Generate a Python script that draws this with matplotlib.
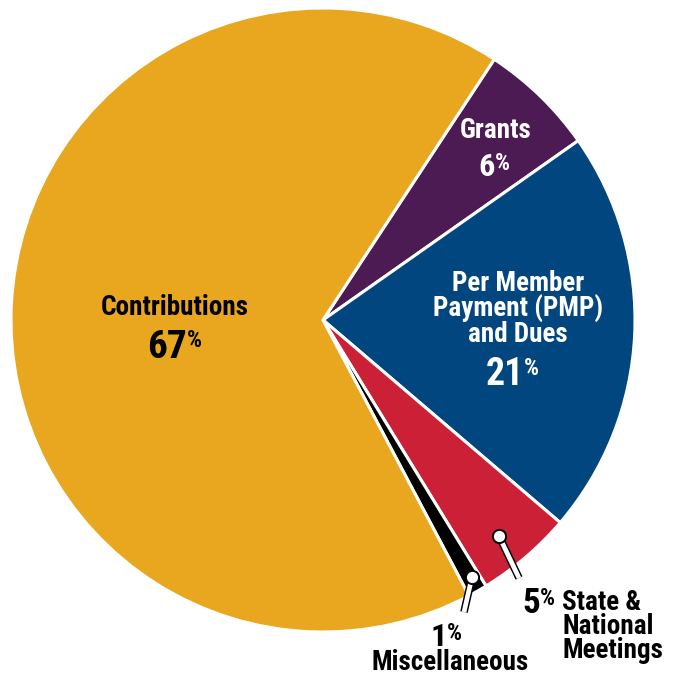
import matplotlib.pyplot as plt
from matplotlib import font_manager

labels = ['Grants', 'Per Member\nPayment (PMP)\nand Dues', 'State &\nNational\nMeetings', 'Miscellaneous', 'Contributions']
shares = [6, 21, 5, 1, 67]
colors = ['#4d1b53', '#02467f', '#cb2035', '#000000', '#e8a71f']

installed = {f.name for f in font_manager.fontManager.ttflist}
wanted = ['Roboto Condensed', 'Archivo Narrow', 'Liberation Sans Narrow', 'Barlow Semi Condensed']
FONT = [n for n in wanted if n in installed][:1] + ['DejaVu Sans']

fig = plt.figure(figsize=(6.73, 6.74), dpi=100)
ax = fig.add_axes([0, 0, 1, 1])
R = 312.0  # pie radius in pixels
cx, cy = 323.0, 320.0


def px(x, y):
    # pixel coords (origin top-left) -> data coords
    return (x - cx) / R, (cy - y) / R


ax.pie(shares, colors=colors, startangle=56.7, counterclock=False, radius=1,
       wedgeprops=dict(edgecolor='white', linewidth=2.2))
ax.set_xlim(-cx / R, (673 - cx) / R)
ax.set_ylim(-(674 - cy) / R, cy / R)
ax.set_aspect('equal')
ax.axis('off')

LABEL_SIZE = 19.5
PCT_SIZE = 17


def pct(x, y, value, color, size):
    # big number with a small raised percent sign, tops aligned
    tx, ty = px(x, y)
    ax.text(tx, ty, str(value), color=color, fontsize=size, fontweight='bold',
            family=FONT, ha='right', va='baseline')
    raise_px = (size - PCT_SIZE) * 0.99
    ax.text(tx, ty + raise_px / R, '%', color=color, fontsize=PCT_SIZE,
            fontweight='bold', family=FONT, ha='left', va='baseline')


def label(x, y, text, color, ha='center', step=25.5):
    tx, ty = px(x, y)
    for i, line in enumerate(text.split('\n')):
        ax.text(tx, ty - i * step / R, line, color=color, fontsize=LABEL_SIZE,
                fontweight='bold', family=FONT, ha=ha, va='baseline')


def leader(x0, y0, x1, y1):
    a, b = px(x0, y0)
    c, d = px(x1, y1)
    ax.plot([a, c], [b, d], color='black', lw=5.5, solid_capstyle='butt', zorder=5)
    ax.plot([a, c], [b, d], color='white', lw=3.4, solid_capstyle='butt', zorder=6)
    ax.plot([a], [b], marker='o', ms=9.5, mfc='white', mec='black', mew=1.4, zorder=7)


# Contributions
label(175, 315, labels[4], 'black')
pct(187, 358, shares[4], 'black', 28.4)

# Grants
label(496, 138, labels[0], 'white')
pct(495, 176, shares[0], 'white', 23.3)

# PMP
label(518, 291, labels[1], 'white')
pct(524, 385, shares[1], 'white', 27.3)

# State & National Meetings
leader(499, 536, 519, 578)
pct(540, 613, shares[2], 'black', 25.3)
label(562, 610, labels[2], 'black', ha='left', step=24)

# Miscellaneous
leader(472, 577, 464, 612)
pct(447, 646, shares[3], 'black', 23.3)
label(450, 670, labels[3], 'black')

fig.savefig('out.png', dpi=100, facecolor='white')
